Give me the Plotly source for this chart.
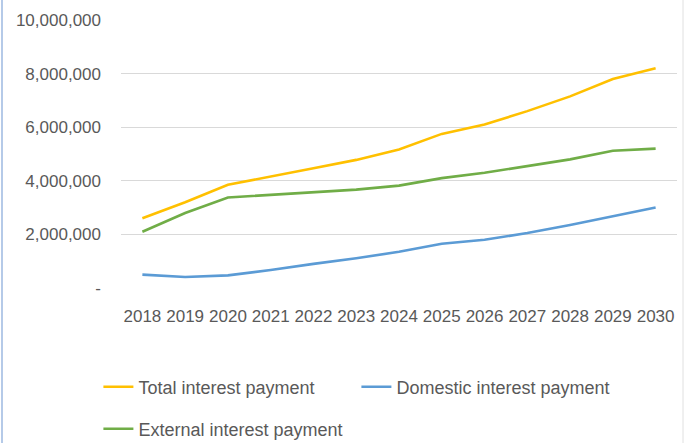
import plotly.graph_objects as go

years = ["2018", "2019", "2020", "2021", "2022", "2023", "2024", "2025", "2026", "2027", "2028", "2029", "2030"]
total = [2600000, 3200000, 3850000, 4150000, 4470000, 4780000, 5170000, 5750000, 6100000, 6600000, 7150000, 7800000, 8200000]
domestic = [500000, 410000, 470000, 670000, 900000, 1110000, 1350000, 1650000, 1800000, 2050000, 2350000, 2680000, 3000000]
external = [2100000, 2800000, 3380000, 3480000, 3570000, 3670000, 3820000, 4100000, 4300000, 4550000, 4800000, 5120000, 5200000]

y_ticks = [0, 2000000, 4000000, 6000000, 8000000, 10000000]
y_labels = ["-", "2,000,000", "4,000,000", "6,000,000", "8,000,000", "10,000,000"]

FONT = "Liberation Sans Narrow, Arial Narrow, Liberation Sans, Arial, sans-serif"
GRAY = "#595959"

fig = go.Figure()
fig.add_trace(go.Scatter(x=years, y=total, mode="lines", name="Total interest payment", showlegend=True,
                         line=dict(color="#FFC000", width=2.6), legend="legend"))
fig.add_trace(go.Scatter(x=years, y=domestic, mode="lines", name="Domestic interest payment", showlegend=True,
                         line=dict(color="#5B9BD5", width=2.6), legend="legend2"))
fig.add_trace(go.Scatter(x=years, y=external, mode="lines", name="External interest payment", showlegend=True,
                         line=dict(color="#70AD47", width=2.6), legend="legend3"))

W, H = 691, 443
L, R, T, B = 121, 14, 19.5, 155
PW = W - L - R


def leg(text_px, center_y):
    return dict(orientation="h", x=(text_px - 39.6 - L) / PW, y=(H - center_y) / H, yref="container",
                xanchor="left", yanchor="middle", font=dict(size=18, color=GRAY),
                bgcolor="rgba(0,0,0,0)", itemwidth=30)


fig.update_layout(
    width=W, height=H,
    showlegend=True,
    margin=dict(l=L, r=R, t=T, b=B, autoexpand=False),
    paper_bgcolor="white", plot_bgcolor="white",
    font=dict(family=FONT, size=17, color=GRAY),
    legend=leg(138, 387),
    legend2=leg(396, 387),
    legend3=leg(138, 429),
    xaxis=dict(type="category", range=[-0.5, 12.5], showgrid=False, zeroline=False,
               showline=False, ticks="", ticklabelstandoff=16, tickangle=0, automargin=False,
               tickfont=dict(size=17, color=GRAY)),
    yaxis=dict(range=[0, 10000000], tickvals=y_ticks, ticktext=y_labels,
               showgrid=True, gridcolor="#D9D9D9", gridwidth=1, zeroline=False,
               showline=False, ticks="", ticklabelstandoff=19, automargin=False,
               tickfont=dict(size=17, color=GRAY)),
    shapes=[
        dict(type="line", xref="paper", yref="paper", x0=(683 - L) / PW, x1=(683 - L) / PW,
             y0=-2, y1=2, line=dict(color="#E0E0E0", width=1)),
        dict(type="line", xref="paper", yref="paper", x0=(2 - L) / PW, x1=(2 - L) / PW,
             y0=-2, y1=2, line=dict(color="#9DB9E0", width=1.5)),
    ],
)

fig.write_html("out.html")
